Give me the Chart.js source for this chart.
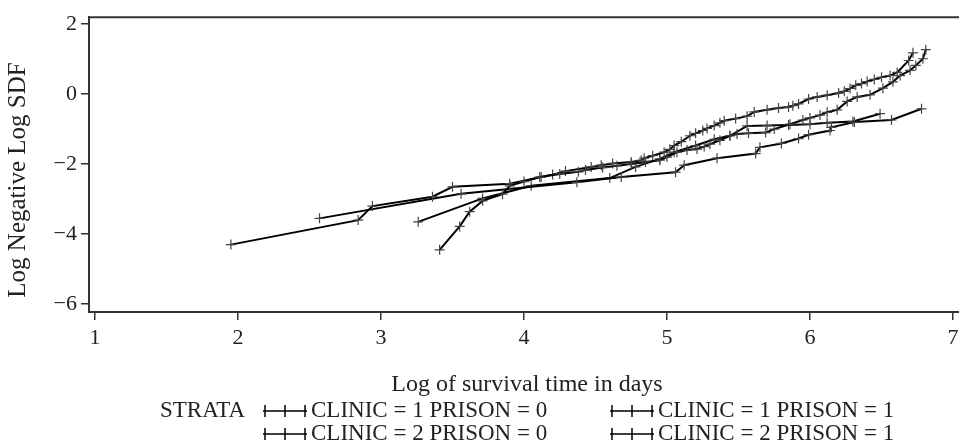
<!DOCTYPE html>
<html>
<head>
<meta charset="utf-8">
<script src="https://cdn.jsdelivr.net/npm/chart.js@4/dist/chart.umd.min.js"></script>
<style>
  html, body { margin: 0; background: #fff; }
</style>
</head>
<body>
<canvas id="llsChart" width="959" height="447"></canvas>
<script>
// strata names
const strata = ["CLINIC = 1 PRISON = 0", "CLINIC = 1 PRISON = 1", "CLINIC = 2 PRISON = 0", "CLINIC = 2 PRISON = 1"];

// log(time) and log(-log S)
const c1p0X = [3.41, 3.55, 3.62, 3.71, 3.85, 3.90, 4.00, 4.11, 4.25, 4.38, 4.43, 4.55, 4.65, 4.75, 4.85, 4.95, 5.00, 5.07, 5.14, 5.21, 5.26, 5.30, 5.37, 5.44, 5.49, 5.57, 5.69, 5.75, 5.86, 5.95, 6.00, 6.07, 6.12, 6.19, 6.26, 6.33, 6.42, 6.51, 6.58, 6.63, 6.70, 6.74, 6.79, 6.81];
const c1p0Y = [-4.45, -3.78, -3.36, -3.05, -2.86, -2.62, -2.50, -2.37, -2.28, -2.22, -2.17, -2.10, -2.05, -2.00, -1.94, -1.89, -1.80, -1.66, -1.60, -1.57, -1.50, -1.43, -1.32, -1.19, -1.14, -1.12, -1.10, -1.00, -0.86, -0.74, -0.68, -0.60, -0.52, -0.45, -0.21, -0.08, -0.02, 0.17, 0.35, 0.53, 0.68, 0.82, 1.01, 1.27];

const c1p1X = [1.95, 2.84, 2.94, 3.36, 3.50, 3.90, 4.12, 4.20, 4.29, 4.47, 4.54, 4.62, 4.75, 4.82, 4.84, 4.90, 4.98, 5.02, 5.05, 5.10, 5.16, 5.20, 5.25, 5.28, 5.33, 5.37, 5.40, 5.48, 5.56, 5.61, 5.70, 5.78, 5.85, 5.88, 5.92, 5.99, 6.05, 6.12, 6.20, 6.24, 6.28, 6.32, 6.36, 6.40, 6.45, 6.50, 6.56, 6.61, 6.69, 6.72];
const c1p1Y = [-4.30, -3.60, -3.20, -2.93, -2.65, -2.56, -2.37, -2.30, -2.20, -2.08, -2.03, -1.98, -1.94, -1.89, -1.83, -1.76, -1.66, -1.58, -1.47, -1.36, -1.19, -1.12, -1.04, -0.98, -0.90, -0.82, -0.76, -0.70, -0.63, -0.51, -0.45, -0.40, -0.37, -0.33, -0.28, -0.14, -0.08, -0.03, 0.03, 0.08, 0.16, 0.25, 0.30, 0.36, 0.42, 0.48, 0.53, 0.62, 0.96, 1.18];

const c2p0X = [2.57, 3.56, 4.37, 4.68, 5.06, 5.12, 5.35, 5.62, 5.65, 5.80, 5.92, 5.99, 6.14, 6.15, 6.31, 6.57, 6.78];
const c2p0Y = [-3.55, -2.85, -2.52, -2.37, -2.23, -2.03, -1.83, -1.70, -1.52, -1.41, -1.27, -1.16, -1.04, -0.95, -0.80, -0.74, -0.42];

const c2p1X = [3.26, 3.71, 4.05, 4.60, 4.78, 4.95, 5.05, 5.20, 5.33, 5.44, 5.56, 5.70, 5.85, 6.00, 6.12, 6.30, 6.49];
const c2p1Y = [-3.65, -2.98, -2.62, -2.40, -2.08, -1.85, -1.66, -1.47, -1.29, -1.19, -0.91, -0.90, -0.88, -0.86, -0.82, -0.78, -0.56];

const xTicks = [1, 2, 3, 4, 5, 6, 7];
const yTicks = [-6, -4, -2, 0, 2];
const xTitle = "Log of survival time in days";
const yTitle = "Log Negative Log SDF";
const legendTitle = "STRATA";

const serif = '"Liberation Serif", "DejaVu Serif", serif';
const ink = "#222";

function pairs(xs, ys) {
  return xs.map((x, i) => ({ x: x, y: ys[i] }));
}

const series = [[c1p0X, c1p0Y], [c1p1X, c1p1Y], [c2p0X, c2p0Y], [c2p1X, c2p1Y]];

const datasets = series.map((s, i) => ({
  label: strata[i],
  data: pairs(s[0], s[1]),
  borderColor: "#000",
  borderWidth: 2,
  pointStyle: "cross",
  pointRadius: 5,
  pointBorderColor: "#444",
  pointBorderWidth: 1.2,
  pointBackgroundColor: "#444",
  tension: 0,
  fill: false
}));

// frame top, axis titles and the STRATA legend
const extras = {
  id: "extras",
  afterDraw(chart) {
    const ctx = chart.ctx;
    const a = chart.chartArea;
    ctx.save();
    ctx.strokeStyle = "#333";
    ctx.lineWidth = 2;
    ctx.beginPath();
    ctx.moveTo(a.left, a.top);
    ctx.lineTo(a.right, a.top);
    ctx.stroke();

    ctx.fillStyle = ink;
    ctx.textBaseline = "middle";
    ctx.textAlign = "center";
    ctx.font = "24px " + serif;
    ctx.fillText(xTitle, 527, 385);

    ctx.save();
    ctx.font = "25px " + serif;
    ctx.translate(18, 180);
    ctx.rotate(-Math.PI / 2);
    ctx.fillText(yTitle, 0, 0);
    ctx.restore();

    ctx.font = "23px " + serif;
    ctx.textAlign = "left";
    ctx.fillText(legendTitle, 160, 411);
    const cols = [263, 610];
    const rows = [411, 434];
    strata.forEach((name, i) => {
      const x0 = cols[i % 2];
      const y0 = rows[Math.floor(i / 2)];
      ctx.strokeStyle = "#000";
      ctx.lineWidth = 1.5;
      ctx.beginPath();
      ctx.moveTo(x0, y0);
      ctx.lineTo(x0 + 44, y0);
      [2, 22, 42].forEach(d => {
        ctx.moveTo(x0 + d, y0 - 6);
        ctx.lineTo(x0 + d, y0 + 6);
      });
      ctx.stroke();
      ctx.fillText(name, x0 + 48, y0);
    });
    ctx.restore();
  }
};

new Chart(document.getElementById("llsChart"), {
  type: "line",
  data: { datasets: datasets },
  options: {
    responsive: false,
    animation: false,
    layout: { autoPadding: false, padding: { top: 13, right: 0, left: 0, bottom: 0 } },
    plugins: {
      legend: { display: false },
      tooltip: { enabled: false }
    },
    scales: {
      x: {
        type: "linear",
        min: 0.958,
        max: 7.042,
        afterFit(scale) { scale.height = 135; scale.paddingRight = 0; scale.paddingLeft = 0; },
        afterBuildTicks(scale) { scale.ticks = xTicks.map(v => ({ value: v })); },
        grid: { drawOnChartArea: false, drawTicks: true, tickLength: 8, color: "#333", lineWidth: 1.5 },
        border: { display: true, color: "#333", width: 2 },
        ticks: { color: ink, font: { family: serif, size: 22 }, padding: 5, maxRotation: 0 }
      },
      y: {
        type: "linear",
        min: -6.225,
        max: 2.197,
        afterFit(scale) { scale.width = 89; },
        afterBuildTicks(scale) { scale.ticks = yTicks.map(v => ({ value: v })); },
        grid: { drawOnChartArea: false, drawTicks: true, tickLength: 8, color: "#333", lineWidth: 1.5 },
        border: { display: true, color: "#333", width: 2 },
        ticks: {
          color: ink,
          font: { family: serif, size: 22 },
          padding: 4,
          callback: v => String(v).replace("-", "\u2212")
        }
      }
    }
  },
  plugins: [extras]
});
</script>
</body>
</html>
